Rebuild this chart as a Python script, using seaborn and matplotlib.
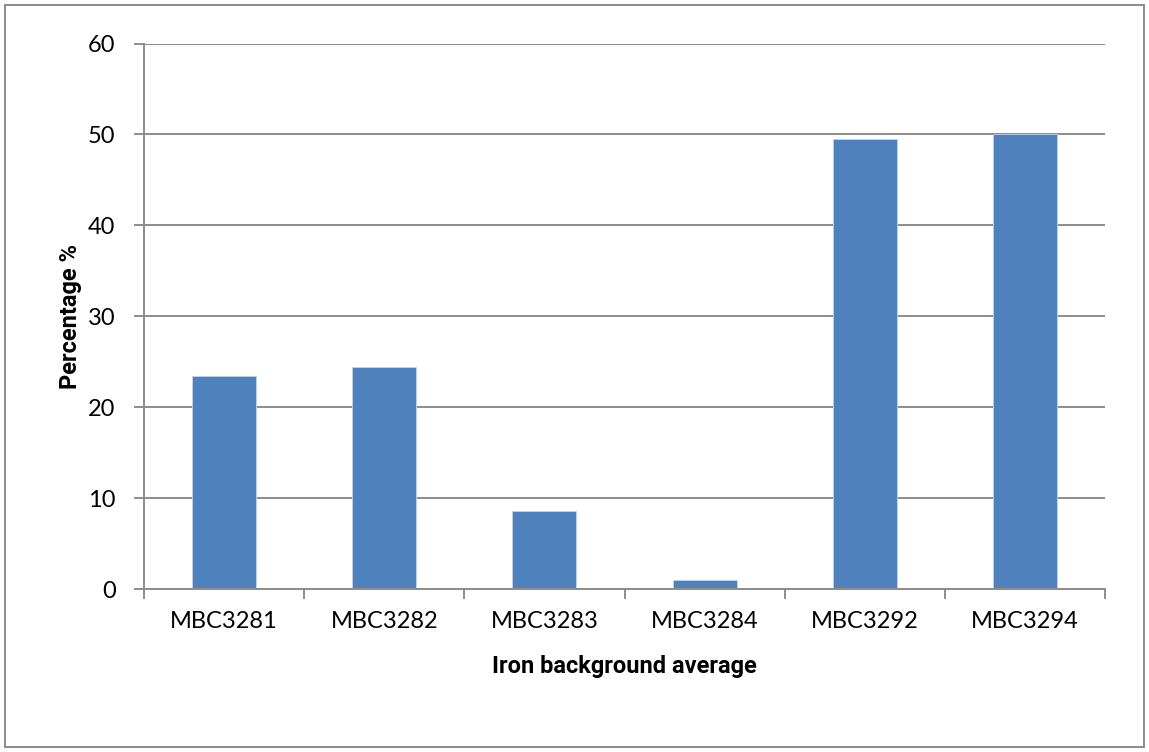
import matplotlib
matplotlib.use("Agg")
import matplotlib.pyplot as plt
from matplotlib.patches import Rectangle
from matplotlib.ticker import FixedLocator, MultipleLocator
import seaborn as sns
import pandas as pd

samples = ["MBC3281", "MBC3282", "MBC3283", "MBC3284", "MBC3292", "MBC3294"]
percentages = [23.4, 24.4, 8.6, 1.0, 49.45, 50.0]

sns.set_theme(style="white")
plt.rcParams["font.family"] = ["Lato", "DejaVu Sans"]

df = pd.DataFrame({"sample": samples, "pct": percentages})

W, H = 1149, 752
fig = plt.figure(figsize=(W / 100, H / 100), dpi=100)
left, right, top, bottom = 144, 1105, 43.5, 589
ax = fig.add_axes([left / W, 1 - bottom / H, (right - left) / W, (bottom - top) / H])

grid_color = "#8c8c8c"
sns.barplot(data=df, x="sample", y="pct", color="#4f81bd", saturation=1,
            width=0.4, ax=ax, zorder=3, edgecolor="#c5d3ea", linewidth=0.6)

ax.set_xlim(-0.5, len(samples) - 0.5)
ax.set_ylim(0, 60)
ax.yaxis.set_major_locator(MultipleLocator(10))
ax.grid(axis="y", color=grid_color, linewidth=1.4, zorder=0)
ax.set_axisbelow(True)

for side in ("top", "right"):
    ax.spines[side].set_visible(False)
for side in ("left", "bottom"):
    ax.spines[side].set_color(grid_color)
    ax.spines[side].set_linewidth(1.4)
    ax.spines[side].set_zorder(4)

# x tick marks sit between the categories
ax.xaxis.set_minor_locator(FixedLocator([i + 0.5 for i in range(-1, len(samples))]))
ax.tick_params(axis="x", which="major", length=0, pad=16, labelsize=17, labelcolor="black")
ax.tick_params(axis="x", which="minor", length=7, width=1.4, color=grid_color, direction="out", bottom=True)
ax.tick_params(axis="y", which="major", length=7, width=1.4, color=grid_color, direction="out",
               left=True, pad=13.5, labelsize=17, labelcolor="black")

label_font = dict(family=["Roboto", "DejaVu Sans"], fontsize=17, fontweight="bold", color="black")
ax.set_xlabel("Iron background average", **label_font)
ax.set_ylabel("Percentage %", **label_font)
ax.xaxis.label.set_va("center")
ax.yaxis.label.set_va("center")
ax.xaxis.set_label_coords(0.5, (bottom - 666) / (bottom - top))
ax.yaxis.set_label_coords((71 - left) / (right - left), 0.5)

fig.patches.append(Rectangle((5 / W, 5 / H), (W - 10) / W, (H - 10) / H, transform=fig.transFigure,
                             fill=False, edgecolor="#8c8c8c", linewidth=1.4))

fig.savefig("out.png", dpi=100, facecolor="white")
